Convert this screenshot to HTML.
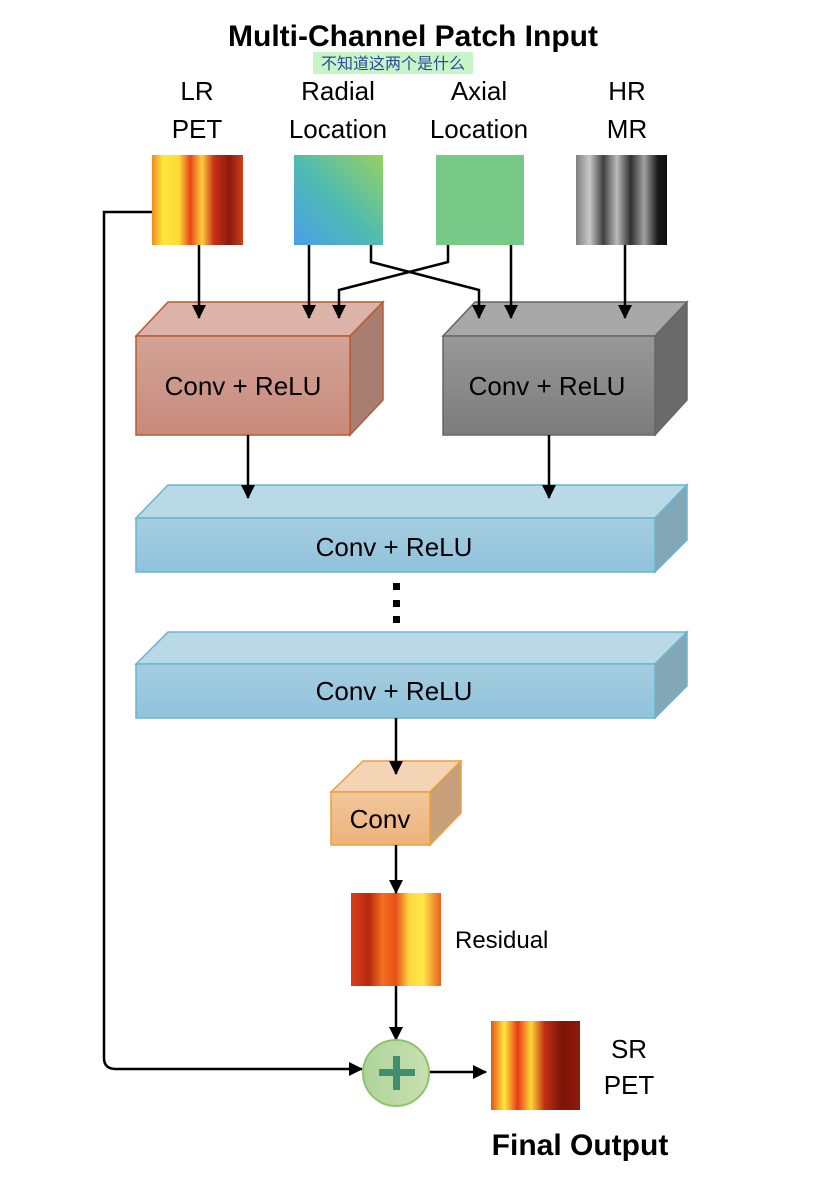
<!DOCTYPE html>
<html><head><meta charset="utf-8"><style>
html,body{margin:0;padding:0;background:#fff;}
svg{display:block;font-family:"Liberation Sans","Noto Sans CJK SC",sans-serif;}
</style></head><body>
<svg width="816" height="1202" viewBox="0 0 816 1202" xmlns="http://www.w3.org/2000/svg">
<defs>
<marker id="ah2" markerWidth="14" markerHeight="14" refX="13" refY="7" orient="auto" markerUnits="userSpaceOnUse"><path d="M0,0 L14,7 L0,14 z" fill="#000"/></marker>
<linearGradient id="pet" x1="0" x2="1" y1="0" y2="0">
<stop offset="0" stop-color="#f08a20"/><stop offset="0.12" stop-color="#ffe83a"/><stop offset="0.3" stop-color="#ffd838"/><stop offset="0.42" stop-color="#e8461a"/><stop offset="0.55" stop-color="#ffcf3a"/><stop offset="0.68" stop-color="#c8301a"/><stop offset="0.85" stop-color="#8a1a0c"/><stop offset="1" stop-color="#d0401a"/></linearGradient>
<linearGradient id="res" x1="0" x2="1" y1="0" y2="0">
<stop offset="0" stop-color="#d8401a"/><stop offset="0.2" stop-color="#b8280e"/><stop offset="0.35" stop-color="#f07020"/><stop offset="0.5" stop-color="#e8501a"/><stop offset="0.65" stop-color="#ffd840"/><stop offset="0.8" stop-color="#ffe84a"/><stop offset="1" stop-color="#e86020"/></linearGradient>
<linearGradient id="sr" x1="0" x2="1" y1="0" y2="0">
<stop offset="0" stop-color="#e8501a"/><stop offset="0.15" stop-color="#ffe83a"/><stop offset="0.3" stop-color="#e83a18"/><stop offset="0.45" stop-color="#ffd838"/><stop offset="0.6" stop-color="#c03018"/><stop offset="0.8" stop-color="#7a1408"/><stop offset="1" stop-color="#901a0a"/></linearGradient>
<linearGradient id="mr" x1="0" x2="1" y1="0" y2="0">
<stop offset="0" stop-color="#808080"/><stop offset="0.15" stop-color="#c8c8c8"/><stop offset="0.3" stop-color="#404040"/><stop offset="0.45" stop-color="#bbbbbb"/><stop offset="0.6" stop-color="#303030"/><stop offset="0.75" stop-color="#a0a0a0"/><stop offset="0.9" stop-color="#181818"/><stop offset="1" stop-color="#101010"/></linearGradient>
<linearGradient id="rad" x1="0" y1="1" x2="1" y2="0">
<stop offset="0" stop-color="#4a9ee8"/><stop offset="0.5" stop-color="#50bcb0"/><stop offset="1" stop-color="#9ad060"/></linearGradient>
<linearGradient id="redf" x1="0" y1="0" x2="0" y2="1"><stop offset="0" stop-color="#d2a396"/><stop offset="1" stop-color="#c88a7c"/></linearGradient>
<linearGradient id="greyf" x1="0" y1="0" x2="0" y2="1"><stop offset="0" stop-color="#989898"/><stop offset="1" stop-color="#7c7c7c"/></linearGradient>
<linearGradient id="bluef" x1="0" y1="0" x2="0" y2="1"><stop offset="0" stop-color="#a6cde0"/><stop offset="1" stop-color="#8fc3dc"/></linearGradient>
<linearGradient id="orf" x1="0" y1="0" x2="0" y2="1"><stop offset="0" stop-color="#f1c79c"/><stop offset="1" stop-color="#eeb27c"/></linearGradient>
<linearGradient id="grn" x1="0" y1="0" x2="1" y2="0"><stop offset="0" stop-color="#aed49a"/><stop offset="1" stop-color="#c8e0b0"/></linearGradient>
</defs>

<text x="413" y="46" font-size="30" font-weight="bold" text-anchor="middle">Multi-Channel Patch Input</text>
<rect x="313" y="52" width="160" height="22" fill="#c8f5c8"/>
<text x="393" y="69" font-size="16" fill="#2a4a9a" text-anchor="middle">不知道这两个是什么</text>

<g font-size="26" text-anchor="middle">
<text x="197" y="100">LR</text><text x="197" y="138">PET</text>
<text x="338" y="100">Radial</text><text x="338" y="138">Location</text>
<text x="479" y="100">Axial</text><text x="479" y="138">Location</text>
<text x="627" y="100">HR</text><text x="627" y="138">MR</text>
</g>

<rect x="152" y="155" width="91" height="90" fill="url(#pet)"/>
<rect x="294" y="155" width="89" height="90" fill="url(#rad)"/>
<rect x="436" y="155" width="88" height="90" fill="#76c986"/>
<rect x="576" y="155" width="91" height="90" fill="url(#mr)"/>

<!-- red box -->
<polygon points="136,336 168,302 383,302 350,336" fill="#dcb3a8" stroke="#b85a30" stroke-width="1.5"/>
<polygon points="350,336 383,302 383,400 350,435" fill="#a87e72" stroke="#b85a30" stroke-width="1.5"/>
<rect x="136" y="336" width="214" height="99" fill="url(#redf)" stroke="#b85a30" stroke-width="1.5"/>
<text x="243" y="395" font-size="26" text-anchor="middle">Conv + ReLU</text>
<!-- grey box -->
<polygon points="443,336 475,302 687,302 655,336" fill="#a8a8a8" stroke="#666" stroke-width="1.5"/>
<polygon points="655,336 687,302 687,400 655,435" fill="#6a6a6a" stroke="#666" stroke-width="1.5"/>
<rect x="443" y="336" width="212" height="99" fill="url(#greyf)" stroke="#666" stroke-width="1.5"/>
<text x="547" y="395" font-size="26" text-anchor="middle">Conv + ReLU</text>

<g stroke="#000" stroke-width="2.5" fill="none">
<line x1="199" y1="245" x2="199" y2="318" marker-end="url(#ah2)"/>
<line x1="309" y1="245" x2="309" y2="318" marker-end="url(#ah2)"/>
<polyline points="371,245 371,262 479,290 479,318" marker-end="url(#ah2)"/>
<polyline points="448,245 448,262 339,290 339,318" marker-end="url(#ah2)"/>
<line x1="511" y1="245" x2="511" y2="318" marker-end="url(#ah2)"/>
<line x1="625" y1="245" x2="625" y2="318" marker-end="url(#ah2)"/>
</g>

<!-- blue boxes -->
<polygon points="136,518 168,485 687,485 655,518" fill="#b9d9e6" stroke="#6ab4d0" stroke-width="1.5"/>
<polygon points="655,518 687,485 687,540 655,572" fill="#82a8b8" stroke="#6ab4d0" stroke-width="1.5"/>
<rect x="136" y="518" width="519" height="54" fill="url(#bluef)" stroke="#6ab4d0" stroke-width="1.5"/>
<text x="394" y="556" font-size="26" text-anchor="middle">Conv + ReLU</text>

<rect x="393" y="583" width="7" height="7" fill="#000"/>
<rect x="393" y="600" width="7" height="7" fill="#000"/>
<rect x="393" y="616" width="7" height="7" fill="#000"/>

<polygon points="136,664 168,632 687,632 655,664" fill="#b9d9e6" stroke="#6ab4d0" stroke-width="1.5"/>
<polygon points="655,664 687,632 687,686 655,718" fill="#82a8b8" stroke="#6ab4d0" stroke-width="1.5"/>
<rect x="136" y="664" width="519" height="54" fill="url(#bluef)" stroke="#6ab4d0" stroke-width="1.5"/>
<text x="394" y="700" font-size="26" text-anchor="middle">Conv + ReLU</text>

<!-- conv box -->
<polygon points="331,792 363,761 461,761 430,792" fill="#f4d4b4" stroke="#e8a040" stroke-width="1.5"/>
<polygon points="430,792 461,761 461,813 430,845" fill="#c8a07c" stroke="#e8a040" stroke-width="1.5"/>
<rect x="331" y="792" width="99" height="53" fill="url(#orf)" stroke="#e8a040" stroke-width="1.5"/>
<text x="380" y="828" font-size="26" text-anchor="middle">Conv</text>

<rect x="351" y="893" width="90" height="93" fill="url(#res)"/>
<text x="455" y="948" font-size="24">Residual</text>

<g stroke="#000" stroke-width="2.5" fill="none">
<line x1="248" y1="435" x2="248" y2="498" marker-end="url(#ah2)"/>
<line x1="549" y1="435" x2="549" y2="498" marker-end="url(#ah2)"/>
<line x1="396" y1="718" x2="396" y2="774" marker-end="url(#ah2)"/>
<line x1="396" y1="845" x2="396" y2="893" marker-end="url(#ah2)"/>
<line x1="396" y1="986" x2="396" y2="1040" marker-end="url(#ah2)"/>
<path d="M152,212 L104,212 L104,1058 Q104,1069 116,1069 L362,1069" marker-end="url(#ah2)"/>
<line x1="430" y1="1072" x2="486" y2="1072" marker-end="url(#ah2)"/>
</g>

<circle cx="396" cy="1073" r="33" fill="url(#grn)" stroke="#8cc46a" stroke-width="2"/>
<rect x="379" y="1069" width="36" height="7" fill="#3f8f70"/>
<rect x="393" y="1056" width="7" height="34" fill="#3f8f70"/>

<rect x="491" y="1021" width="89" height="89" fill="url(#sr)"/>
<text x="629" y="1058" font-size="26" text-anchor="middle">SR</text>
<text x="629" y="1094" font-size="26" text-anchor="middle">PET</text>
<text x="580" y="1155" font-size="30" font-weight="bold" text-anchor="middle">Final Output</text>
</svg>
</body></html>
